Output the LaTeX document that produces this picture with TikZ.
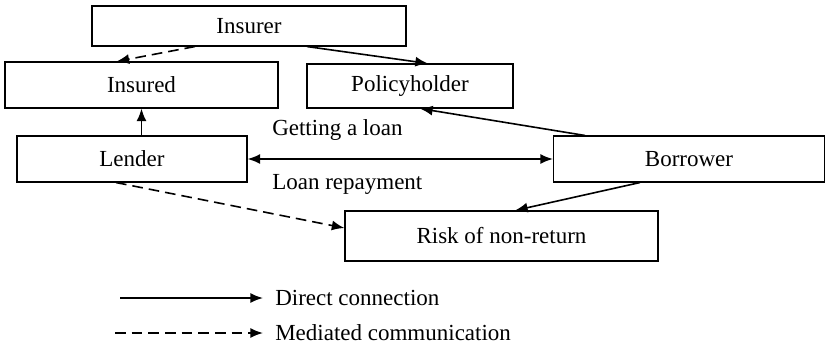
\documentclass[tikz,border=0pt]{standalone}
\usepackage{fontspec}
\setmainfont{Liberation Serif}
\usetikzlibrary{arrows.meta,calc}

\begin{document}
\begin{tikzpicture}[x=0.75pt, y=-0.75pt,
  every node/.style = {font=\fontsize{17.25}{20}\selectfont},
  box/.style = {draw, line width=0.8pt, inner sep=0pt},
  link/.style = {line width=1.2pt, -{Latex[length=9.5pt, width=7.5pt]}},
  mediated/.style = {link, dash pattern=on 8pt off 4.5pt},
  caption/.style = {anchor=west, inner sep=0pt}]
  \useasboundingbox (0,0) rectangle (826,344);
  % boxes
  \node[box, minimum width=314*0.75pt, minimum height=40*0.75pt] (insurer) at (249,26) {Insurer};
  \node[box, minimum width=273*0.75pt, minimum height=46*0.75pt] (insured) at (141.5,85) {Insured};
  \node[box, minimum width=206*0.75pt, minimum height=44*0.75pt] (policy) at (410,86) {Policyholder};
  \node[box, minimum width=230*0.75pt, minimum height=46*0.75pt] (lender) at (132,159) {Lender};
  \node[box, minimum width=271*0.75pt, minimum height=46*0.75pt] (borrower) at (689,159) {Borrower};
  \node[box, minimum width=313*0.75pt, minimum height=50*0.75pt] (risk) at (501.5,236) {Risk of non-return};
  % loan texts
  \node[caption] (getting) at (272,130) {Getting a loan};
  \node[caption] (repay) at (272,184) {Loan repayment};
  % connections
  \draw[mediated] ($(insurer.south)+(-54,0)$) -- ($(insured.north)+(-25,0)$);
  \draw[link] ($(insurer.south)+(58,0)$) -- ($(policy.north)+(18,0)$);
  \draw[link] (lender.north -| insured.south) -- (insured.south);
  \draw[link, {Latex[length=9.5pt, width=7.5pt]}-{Latex[length=9.5pt, width=7.5pt]}] (lender.east) -- (borrower.west);
  \draw[link] ($(borrower.north)+(-104,0)$) -- ($(policy.south)+(10,0)$);
  \draw[link] ($(borrower.south)+(-49,0)$) -- ($(risk.north)+(13.5,0)$);
  \draw[mediated] ($(lender.south)+(-16,0)$) -- ($(risk.west)+(0,-8)$);
  % legend
  \coordinate (solidstart) at (120,298);
  \coordinate (dashstart) at (115,333);
  \node[caption, inner xsep=9pt] (direct) at (263,298) {Direct connection};
  \node[caption, inner xsep=9pt] (indirect) at (263,333) {Mediated communication};
  \draw[link] (solidstart) -- (direct.west);
  \draw[mediated] (dashstart) -- (indirect.west);
\end{tikzpicture}
\end{document}
